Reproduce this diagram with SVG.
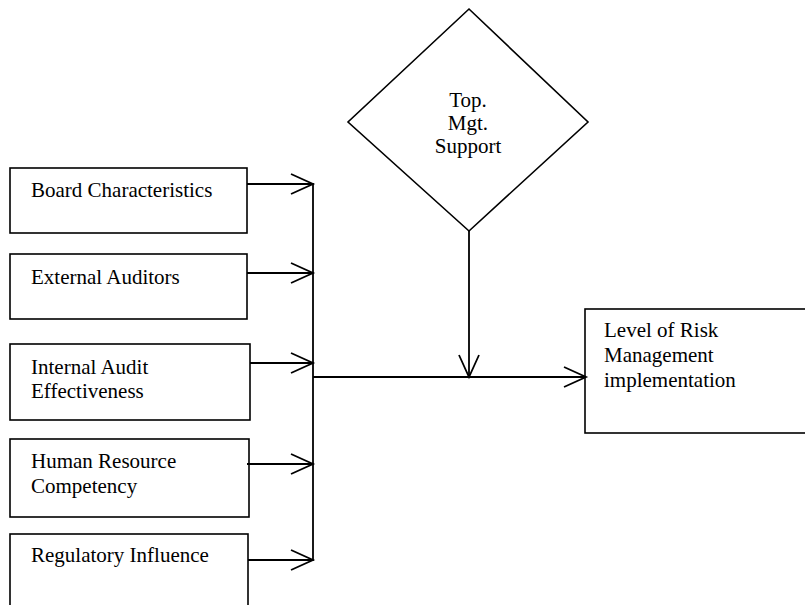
<svg xmlns="http://www.w3.org/2000/svg" width="805" height="605" viewBox="0 0 805 605">
<style>
.box{fill:#fff;stroke:#000;stroke-width:1.6}
.t{font-family:"Liberation Serif","Times New Roman",serif;font-size:21px;fill:#000}
.c{stroke:#000;stroke-width:1.8;fill:none}
.a{marker-end:url(#arr)}
</style>
<defs>
<marker id="arr" markerUnits="userSpaceOnUse" markerWidth="26" markerHeight="24" refX="23" refY="11" orient="auto" viewBox="0 0 26 24">
<path d="M1,1 L23,11 L1,21" fill="none" stroke="#000" stroke-width="1.8"/>
</marker>
</defs>
<rect width="805" height="605" fill="#fff"/>
<g id="board">
<rect class="box" x="10" y="168" width="237" height="65"/>
<text class="t" x="31" y="197">Board Characteristics</text>
</g>
<g id="external">
<rect class="box" x="10" y="254" width="237" height="65"/>
<text class="t" x="31" y="284">External Auditors</text>
</g>
<g id="internal">
<rect class="box" x="10" y="344" width="240" height="76"/>
<text class="t" x="31" y="374">Internal Audit</text>
<text class="t" x="31" y="398">Effectiveness</text>
</g>
<g id="hr">
<rect class="box" x="10" y="439" width="239" height="78"/>
<text class="t" x="31" y="468">Human Resource</text>
<text class="t" x="31" y="493">Competency</text>
</g>
<g id="regulatory">
<rect class="box" x="10" y="534" width="238" height="80"/>
<text class="t" x="31" y="562">Regulatory Influence</text>
</g>
<g id="topmgt">
<polygon class="box" points="469,9 588,122 469,231 348,122"/>
<text class="t" x="468" y="107" text-anchor="middle">Top.</text>
<text class="t" x="468" y="130" text-anchor="middle">Mgt.</text>
<text class="t" x="468" y="153" text-anchor="middle">Support</text>
</g>
<g id="level">
<rect class="box" x="585" y="309" width="230" height="124"/>
<text class="t" x="604" y="337">Level of Risk</text>
<text class="t" x="604" y="362">Management</text>
<text class="t" x="604" y="387">implementation</text>
</g>
<g id="connectors">
<line class="c a" x1="247" y1="184" x2="313" y2="184"/>
<line class="c a" x1="247" y1="273" x2="313" y2="273"/>
<line class="c a" x1="250" y1="363" x2="313" y2="363"/>
<line class="c a" x1="247" y1="464" x2="313" y2="464"/>
<line class="c a" x1="248" y1="560" x2="313" y2="560"/>
<line class="c" x1="313" y1="183" x2="313" y2="561"/>
<line class="c a" x1="313" y1="377" x2="586" y2="377"/>
<line class="c a" x1="469" y1="231" x2="469" y2="377"/>
</g>
</svg>
